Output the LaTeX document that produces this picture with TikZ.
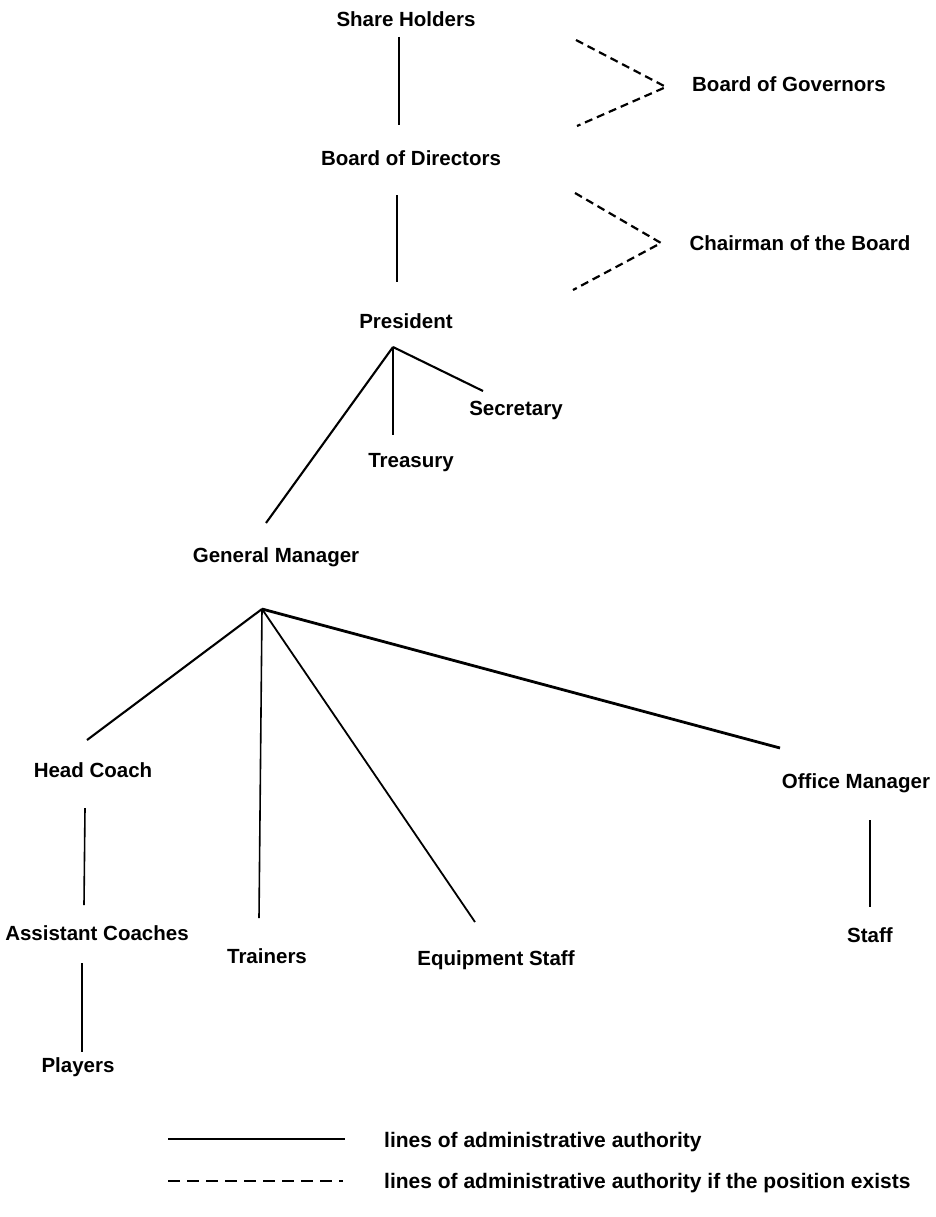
\documentclass[tikz,border=0pt]{standalone}
\usepackage{fontspec}
\setmainfont{Liberation Sans}
\begin{document}
\begin{tikzpicture}[x=1pt,y=-1pt,
  lab/.style={inner sep=0pt,anchor=base,font=\bfseries\fontsize{20.5}{24}\selectfont},
  leg/.style={inner sep=0pt,anchor=base west,font=\bfseries\fontsize{21}{25}\selectfont},
  auth/.style={line width=2.1pt},
  opt/.style={line width=2.2pt,dash pattern=on 8pt off 5pt}]
\useasboundingbox (0,0) rectangle (935,1217);
% nodes (placed on their baselines)
\node[lab] (sh) at (406,27) {Share Holders};
\node[lab] (bd) at (411,166) {Board of Directors};
\node[lab] (pres) at (406,328) {President};
\node[lab] (bg) at (789,92) {Board of Governors};
\node[lab] (cb) at (800,250) {Chairman of the Board};
\node[lab] (sec) at (516,415) {Secretary};
\node[lab] (tre) at (411,467) {Treasury};
\node[lab] (gm) at (276,562) {General Manager};
\node[lab] (hc) at (93,777) {Head Coach};
\node[lab] (ac) at (97,940) {Assistant Coaches};
\node[lab] (pl) at (78,1072) {Players};
\node[lab] (tr) at (267,963) {Trainers};
\node[lab] (eq) at (496,965) {Equipment Staff};
\node[lab] (om) at (856,788) {Office Manager};
\node[lab] (st) at (870,942) {Staff};
% connector end points
\coordinate (sh-b) at (399,37);
\coordinate (bd-t) at (399,125);
\coordinate (bd-b) at (397,195);
\coordinate (pres-t) at (397,282);
\coordinate (pres-hub) at (393,347);
\coordinate (gm-t) at (266,523);
\coordinate (tre-t) at (393,435);
\coordinate (sec-t) at (483,391);
\coordinate (gm-hub) at (262,609);
\coordinate (hc-t) at (87,740);
\coordinate (tr-t) at (259,918);
\coordinate (eq-t) at (475,922);
\coordinate (om-t) at (780,748);
\coordinate (hc-b) at (85,808);
\coordinate (ac-t) at (84,905);
\coordinate (ac-b) at (82,963);
\coordinate (pl-t) at (82,1052);
\coordinate (om-b) at (870,820);
\coordinate (st-t) at (870,907);
\coordinate (bg-a) at (576,40);
\coordinate (bg-v) at (666,87);
\coordinate (bg-b) at (577,126);
\coordinate (cb-a) at (575,193);
\coordinate (cb-v) at (661,243);
\coordinate (cb-b) at (573,290);
% solid connectors
\draw[auth] (sh-b) -- (bd-t);
\draw[auth] (bd-b) -- (pres-t);
\draw[auth] (pres-hub) -- (gm-t);
\draw[auth] (pres-hub) -- (tre-t);
\draw[auth] (pres-hub) -- (sec-t);
\draw[auth] (gm-hub) -- (hc-t);
\draw[auth,line width=1.6pt] (gm-hub) -- (tr-t);
\draw[auth,line width=1.8pt] (gm-hub) -- (eq-t);
\draw[auth,line width=2.8pt] (gm-hub) -- (om-t);
\draw[auth,line width=1.6pt] (hc-b) -- (ac-t);
\draw[auth,line width=1.8pt] (ac-b) -- (pl-t);
\draw[auth,line width=1.8pt] (om-b) -- (st-t);
% dashed connectors
\draw[opt] (bg-a) -- (bg-v) -- (bg-b);
\draw[opt] (cb-a) -- (cb-v) -- (cb-b);
% legend
\coordinate (l1a) at (168,1139);
\coordinate (l1b) at (345,1139);
\coordinate (l2a) at (168,1181);
\coordinate (l2b) at (343,1181);
\draw[line width=2.6pt] (l1a) -- (l1b);
\draw[line width=2.2pt,dash pattern=on 12pt off 7pt] (l2a) -- (l2b);
\node[leg] (leg1) at (384,1147) {lines of administrative authority};
\node[leg] (leg2) at (384,1188) {lines of administrative authority if the position exists};
\end{tikzpicture}
\end{document}
